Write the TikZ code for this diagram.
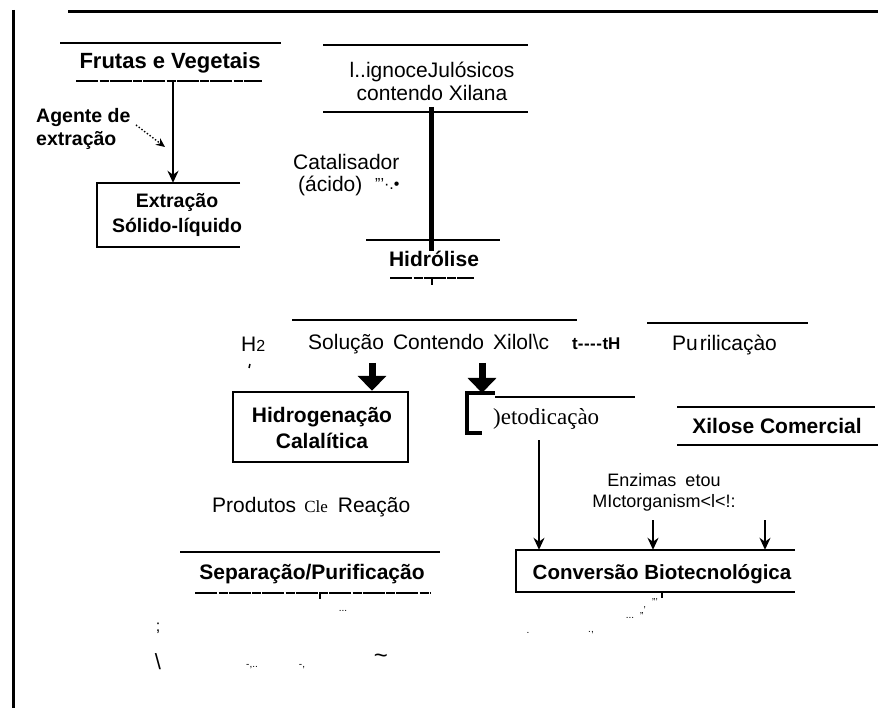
\documentclass[tikz,border=0pt]{standalone}
\usepackage{fontspec}
\setmainfont{Liberation Sans}
\newfontfamily\serifm{Liberation Serif}
\usetikzlibrary{arrows.meta,calc}
\begin{document}
\begin{tikzpicture}[x=1pt,y=-1pt,
  frame/.style={line width=3pt},
  rule/.style={line width=1.9pt},
  dashrule/.style={line width=2pt, dash pattern=on 22pt off 1.5pt on 9pt off 1pt},
  scan/.style={font=\fontsize{21}{26}\selectfont\bfseries, inner sep=0pt, align=center},
  scansmall/.style={font=\fontsize{19.5}{25}\selectfont\bfseries, inner sep=0pt, align=center},
  plain/.style={font=\fontsize{21}{23}\selectfont, inner sep=0pt, align=center},
  noise/.style={font=\fontsize{10}{10}\selectfont, inner sep=0pt},
  arr/.style={line width=1.6pt,-{Stealth[length=12pt,width=11pt]}},
  blockarr/.style={line width=7pt,-{Triangle[length=15pt,width=28pt]}},
  boxline/.style={line width=2.4pt},
]
\useasboundingbox (0,0) rectangle (878,708);

% frame
\draw[frame] (13,10) -- (13,708);
\draw[frame] (68,12) -- (878,12);

% ---------- left column ----------
\draw[rule] (60,43) -- (281,43);
\node[scan, font=\fontsize{22}{26}\selectfont\bfseries] (frutas) at (170,63) {Frutas e Vegetais};
\draw[dashrule] (76,81) -- (262,81);
\coordinate (fr) at (173,81);

\node[scansmall, font=\fontsize{19.5}{23}\selectfont\bfseries, align=left, anchor=west] (agente) at (36,129) {Agente de\\extração};
\coordinate (ag) at (136,125);

\node[minimum width=143pt, minimum height=64pt, inner sep=0pt] (extrbox) at (168.5,215) {};
\draw[boxline] (extrbox.north east) -- (extrbox.north west) -- (extrbox.south west) -- (extrbox.south east);
\node[scansmall] (extr) at (177,215) {Extração\\Sólido-líquido};

\draw[arr] (fr) -- (fr |- extrbox.north);
\draw[line width=1.4pt, dotted, -{Stealth[length=9pt,width=8pt]}] (ag) -- (165,147);

% ---------- middle column ----------
\draw[rule] (323,45) -- (528,45);
\node[plain] (lig) at (432,81) {l..ignoceJulósicos\\contendo Xilana};
\draw[rule] (323,112) -- (528,112);
\coordinate (l1) at (431,107);

\node[plain, align=left, anchor=west] (cat) at (293,162) {Catalisador};
\node[plain, anchor=west] (acido) at (298,186) {(ácido)};
\node[plain, font=\fontsize{16}{16}\selectfont, anchor=west] (acn) at (375,184) {'''·.•};

\draw[rule] (366,240) -- (500,240);
\node[scan] (hidrol) at (434,259) {Hidrólise};
\draw[dashrule] (390,278) -- (474,278);
\draw[line width=2pt] (432,278) -- (432,285);
\draw[line width=5pt] (l1) -- (l1 |- hidrol.north);

% ---------- row 3 ----------
\draw[rule] (292,320) -- (577,320);
\node[plain, anchor=west] (h2) at (241,344) {H{\fontsize{16}{16}\selectfont 2}};
\draw[line width=1.5pt] (250,364) -- (249,368);
\node[plain, anchor=west] (sol) at (308,344) {Solução\kern9pt Contendo\kern9pt Xilol\textbackslash c};
\node[plain, font=\fontsize{17}{17}\selectfont\bfseries, anchor=west] (tth) at (572,344) {t-\kern0.5pt-\kern0.5pt-\kern0.5pt-\kern0.5pt tH};

\draw[rule] (647,323) -- (808,323);
\node[plain, anchor=west] (purif) at (672,345) {Pu\kern2pt rilicaçào};

\node[draw, boxline, minimum width=175pt, minimum height=70pt, inner sep=0pt] (hidro) at (320.5,427) {};
\node[scan] (hidrotxt) at (322,428) {Hidrogenação\\Calalítica};

\coordinate (s1) at (372,363);
\draw[blockarr] (s1) -- (s1 |- hidro.north);

% detox bracket
\draw[line width=4pt] (495,393) -- (467,393) -- (467,433) -- (482,433);
\draw[rule] (495,397) -- (635,397);
\node[inner sep=0pt, font=\serifm\fontsize{23}{23}\selectfont, anchor=west] (detox) at (493,419) {)etodicaçào};
\coordinate (s2) at (482,363);
\draw[blockarr] (s2) -- (482,393);

\draw[rule] (677,407) -- (875,407);
\node[scan] (xil) at (777,426) {Xilose Comercial};
\draw[rule] (677,445) -- (878,445);

% ---------- lower ----------
\node[plain, anchor=west] (prod) at (212,507) {Produtos\kern8pt{\serifm\fontsize{17}{17}\selectfont Cle}\kern10pt Reação};

\draw[rule] (180,552) -- (440,552);
\node[scan] (sep) at (312,574) {Separação/Purificação};
\draw[dashrule] (195,593) -- (430,593);
\draw[line width=1.5pt] (320,593) -- (320,599);
\node[noise] at (343,611) {...};

\node[plain, font=\fontsize{18}{21}\selectfont, align=center] (enz) at (664,492) {Enzimas\kern9pt etou\\MIctorganism<l<!:};
\coordinate (d1) at (539,440);
\coordinate (e1) at (653,520);
\coordinate (e2) at (765,520);

\node[minimum width=279pt, minimum height=42pt, inner sep=0pt] (conv) at (655.5,571) {};
\draw[boxline] (conv.north east) -- (conv.north west) -- (conv.south west) -- (conv.south east);
\node[scan, font=\fontsize{20.5}{24}\selectfont\bfseries] (convtxt) at (662,574) {Conversão Biotecnológica};

\draw[arr] (d1) -- (d1 |- conv.north);
\draw[arr] (e1) -- (e1 |- conv.north);
\draw[arr] (e2) -- (e2 |- conv.north);
\draw[line width=1.5pt] (662,592) -- (662,598);

% scan residue marks
\node[noise] at (655,602) {'''};
\node[noise] at (643,611) {,,'};
\node[noise] at (630,618) {...};
\node[noise] at (591,633) {.,};
\node[noise] at (528,633) {.};
\node[plain, font=\fontsize{16}{16}\selectfont] at (158,628) {;};
\node[plain, font=\fontsize{22}{22}\selectfont] at (158,662) {\textbackslash};
\node[noise] at (252,667) {-,..};
\node[noise] at (302,667) {-,};
\node[plain, font=\fontsize{24}{24}\selectfont] at (381,659) {\char"007E};
\end{tikzpicture}
\end{document}
